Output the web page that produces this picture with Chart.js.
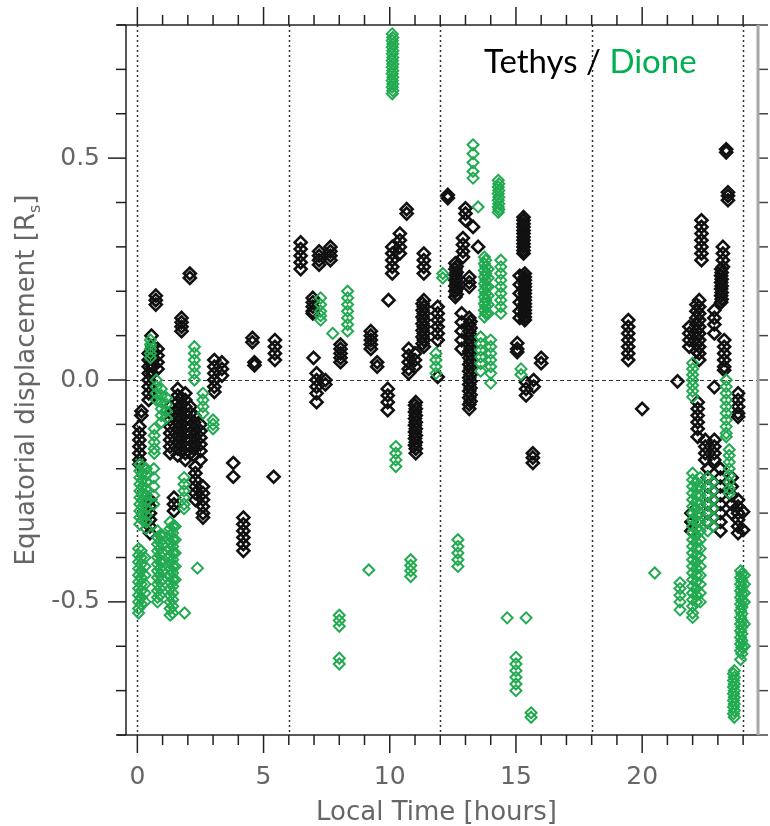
<!DOCTYPE html>
<html>
<head>
<meta charset="utf-8">
<script src="https://cdn.jsdelivr.net/npm/chart.js@4"></script>
<style>
  html, body { margin: 0; background: #fff; }
  #wrap { width: 770px; height: 826px; }
</style>
</head>
<body>
<div id="wrap"><canvas id="displacementChart"></canvas></div>
<script>
// each pass: [local time (h), [equatorial displacement (Rs), ...]]
const tethysPasses = [
  [0.08, [-0.105, -0.12, -0.135, -0.15, -0.165, -0.18, -0.19]],
  [0.16, [-0.07, -0.08]],
  [0.45, [0.06, 0.045, 0.03, 0.015, 0.0, -0.015, -0.03, -0.045]],
  [0.6, [0.075, 0.06, 0.045, 0.03, 0.015]],
  [0.56, [0.10]],
  [0.8, [0.07, 0.055, 0.04, 0.025]],
  [0.73, [0.19, 0.18, 0.17]],
  [1.75, [0.14, 0.13, 0.12, 0.11]],
  [2.08, [0.24, 0.23]],
  [3.05, [0.045, 0.03, 0.015, 0.0, -0.015, -0.027]],
  [3.35, [0.04, 0.025, 0.01]],
  [4.56, [0.095, 0.085]],
  [4.64, [0.04, 0.033]],
  [5.45, [0.09, 0.075, 0.06, 0.045]],
  [1.3, [-0.06, -0.075, -0.09, -0.105, -0.12, -0.135, -0.15, -0.165]],
  [1.6, [-0.02, -0.035, -0.05, -0.065, -0.08, -0.095, -0.11, -0.125, -0.14, -0.155, -0.17]],
  [1.75, [-0.04, -0.055, -0.07, -0.085, -0.1, -0.115, -0.13, -0.145, -0.16]],
  [1.9, [-0.03, -0.045, -0.06, -0.075, -0.09, -0.105, -0.12, -0.135, -0.15, -0.165, -0.18]],
  [2.1, [-0.06, -0.075, -0.09, -0.105, -0.12, -0.135, -0.15, -0.165]],
  [2.25, [-0.08, -0.095, -0.11, -0.125, -0.14, -0.155, -0.17]],
  [2.5, [-0.1, -0.115, -0.13, -0.145, -0.16, -0.18]],
  [0.5, [-0.27, -0.285, -0.3, -0.315, -0.33, -0.345]],
  [1.45, [-0.265, -0.28, -0.295]],
  [2.3, [-0.195, -0.21, -0.225, -0.24, -0.255, -0.27]],
  [2.6, [-0.24, -0.255, -0.27, -0.285, -0.3, -0.31]],
  [3.8, [-0.187, -0.218]],
  [5.4, [-0.218]],
  [4.2, [-0.31, -0.325, -0.34, -0.355, -0.37, -0.385]],
  [6.47, [0.31, 0.295, 0.28, 0.265, 0.25]],
  [7.2, [0.29, 0.28, 0.27, 0.26]],
  [7.65, [0.3, 0.29, 0.28, 0.27]],
  [6.95, [0.185, 0.175, 0.165, 0.155, 0.15]],
  [6.98, [0.05]],
  [7.1, [0.015, 0.0, -0.015, -0.03, -0.05]],
  [7.45, [0.0, -0.01]],
  [8.05, [0.08, 0.07, 0.06, 0.05, 0.04]],
  [9.25, [0.11, 0.1, 0.09, 0.08, 0.07]],
  [9.5, [0.04, 0.03]],
  [9.95, [0.18]],
  [9.92, [-0.02, -0.035, -0.05, -0.068]],
  [10.1, [0.3, 0.285, 0.27, 0.255, 0.24]],
  [10.4, [0.33, 0.315, 0.3, 0.285]],
  [10.67, [0.385, 0.375]],
  [10.75, [0.07, 0.055, 0.04, 0.025, 0.015]],
  [11.0, [0.06, 0.045, 0.03]],
  [11.03, [-0.05, -0.065, -0.08, -0.095, -0.11, -0.125, -0.14, -0.155, -0.165]],
  [11.0, [-0.057, -0.072, -0.087, -0.102, -0.117, -0.132, -0.147]],
  [11.35, [0.285, 0.27, 0.255, 0.24]],
  [11.35, [0.18, 0.165, 0.15, 0.135, 0.12, 0.105, 0.09, 0.075]],
  [11.3, [0.172, 0.157, 0.142, 0.127, 0.112, 0.097, 0.082]],
  [11.9, [0.165, 0.15, 0.135, 0.12, 0.105, 0.09]],
  [11.9, [0.007]],
  [12.3, [0.417, 0.41]],
  [13.0, [0.387, 0.375, 0.36]],
  [13.3, [0.345]],
  [12.9, [0.32, 0.305, 0.29, 0.277]],
  [13.5, [0.3]],
  [12.6, [0.263, 0.25, 0.237, 0.225, 0.212, 0.2, 0.187]],
  [12.65, [0.256, 0.243, 0.23, 0.218, 0.205, 0.193]],
  [13.15, [0.232, 0.22, 0.21]],
  [15.3, [0.367, 0.36, 0.352, 0.345, 0.337, 0.33, 0.322, 0.315, 0.307, 0.3, 0.292, 0.285]],
  [15.35, [0.24, 0.232, 0.225, 0.217, 0.21, 0.202, 0.195, 0.187, 0.18, 0.172, 0.165, 0.157, 0.15, 0.142, 0.135]],
  [15.15, [0.235, 0.215, 0.195, 0.175, 0.155, 0.14]],
  [13.15, [0.14, 0.125, 0.11, 0.095, 0.08, 0.065, 0.05, 0.035, 0.02, 0.005, -0.01, -0.025, -0.04, -0.055, -0.065]],
  [13.2, [0.132, 0.117, 0.102, 0.087, 0.072, 0.057, 0.042, 0.027, 0.012, -0.003, -0.018, -0.033, -0.048]],
  [12.85, [0.15, 0.13, 0.11, 0.09, 0.07]],
  [15.05, [0.083, 0.07, 0.063]],
  [16.0, [0.05, 0.038]],
  [15.4, [-0.005, -0.02, -0.035]],
  [15.7, [0.0, -0.015]],
  [15.67, [-0.165, -0.175, -0.187]],
  [19.45, [0.135, 0.12, 0.105, 0.09, 0.075, 0.06, 0.045]],
  [20.0, [-0.065]],
  [21.4, [-0.003]],
  [22.35, [0.36, 0.345, 0.33, 0.315, 0.3, 0.285, 0.27]],
  [23.33, [0.52, 0.513]],
  [23.4, [0.423, 0.415, 0.405]],
  [23.2, [0.3, 0.285, 0.27, 0.255]],
  [23.13, [0.25, 0.235, 0.22, 0.205, 0.19, 0.175]],
  [23.15, [0.242, 0.227, 0.212, 0.197, 0.182]],
  [22.86, [0.157, 0.14, 0.125, 0.105]],
  [22.26, [0.18, 0.165, 0.15, 0.135, 0.12, 0.105, 0.09, 0.075, 0.06, 0.045]],
  [22.15, [0.17, 0.155, 0.14, 0.125, 0.11, 0.095, 0.08, 0.065]],
  [21.87, [0.12, 0.105, 0.09, 0.075]],
  [23.25, [0.09, 0.075, 0.06, 0.045, 0.03, 0.022]],
  [22.2, [-0.05, -0.065, -0.08, -0.095, -0.11, -0.128]],
  [22.5, [-0.135, -0.15, -0.165, -0.18]],
  [22.86, [-0.135, -0.15, -0.165, -0.18]],
  [22.86, [-0.016]],
  [23.8, [-0.03, -0.045, -0.06, -0.075, -0.083]],
  [23.8, [-0.27, -0.285, -0.3, -0.315, -0.33, -0.345]],
  [24.0, [-0.297, -0.338]],
  [22.6, [-0.2, -0.22, -0.24, -0.26, -0.28, -0.3, -0.32]],
  [23.1, [-0.2, -0.22, -0.24, -0.26, -0.28, -0.3, -0.32, -0.34]],
  [23.55, [-0.22, -0.24, -0.26, -0.28, -0.3]],
  [21.95, [-0.3, -0.32, -0.34]]
];

const dionePasses = [
  [0.52, [0.09, 0.08, 0.07, 0.06, 0.05]],
  [2.26, [0.075, 0.06, 0.045, 0.03, 0.015, 0.0]],
  [0.75, [0.0, -0.015, -0.03, -0.045]],
  [0.95, [-0.02, -0.035, -0.05, -0.065, -0.08, -0.095]],
  [1.15, [-0.04, -0.055, -0.07, -0.085]],
  [2.6, [-0.03, -0.045, -0.06, -0.075]],
  [3.0, [-0.09, -0.1, -0.11]],
  [0.67, [-0.11, -0.125, -0.14, -0.155, -0.165]],
  [0.1, [-0.19, -0.205, -0.22, -0.235, -0.25, -0.265, -0.28, -0.295, -0.31, -0.325]],
  [0.2, [-0.195, -0.21, -0.225, -0.24, -0.255, -0.27, -0.285, -0.3, -0.315]],
  [0.35, [-0.2, -0.215, -0.23, -0.245, -0.26, -0.275, -0.29, -0.305, -0.32, -0.335]],
  [0.65, [-0.2, -0.22, -0.24, -0.26, -0.28]],
  [1.85, [-0.22, -0.235, -0.25, -0.265, -0.28, -0.29]],
  [0.05, [-0.38, -0.395, -0.41, -0.425, -0.44, -0.455, -0.47, -0.485, -0.5, -0.515, -0.525]],
  [0.15, [-0.385, -0.4, -0.415, -0.43, -0.445, -0.46, -0.475, -0.49, -0.505]],
  [0.3, [-0.4, -0.42, -0.44, -0.46, -0.48, -0.5]],
  [0.8, [-0.34, -0.355, -0.37, -0.385, -0.4, -0.415, -0.43, -0.445, -0.46, -0.475, -0.49, -0.5]],
  [0.9, [-0.35, -0.365, -0.38, -0.395, -0.41, -0.425, -0.44, -0.455, -0.47, -0.485]],
  [1.0, [-0.35, -0.37, -0.39, -0.41, -0.43, -0.45]],
  [1.3, [-0.32, -0.335, -0.35, -0.365, -0.38, -0.395, -0.41, -0.425, -0.44, -0.455, -0.47, -0.485, -0.5, -0.515, -0.53]],
  [1.4, [-0.33, -0.345, -0.36, -0.375, -0.39, -0.405, -0.42, -0.435, -0.45, -0.465, -0.48, -0.495, -0.51, -0.525]],
  [1.5, [-0.33, -0.36, -0.39, -0.42, -0.45]],
  [2.38, [-0.424]],
  [1.87, [-0.525]],
  [7.26, [0.185, 0.17, 0.155, 0.145, 0.135]],
  [7.74, [0.105]],
  [8.33, [0.2, 0.185, 0.17, 0.155, 0.14, 0.125, 0.11]],
  [8.0, [-0.53, -0.542, -0.555]],
  [8.0, [-0.627, -0.64]],
  [9.17, [-0.428]],
  [10.1, [0.78, 0.765, 0.75, 0.735, 0.72, 0.705, 0.69, 0.675, 0.66, 0.645]],
  [10.12, [0.772, 0.757, 0.742, 0.727, 0.712, 0.697, 0.682, 0.667, 0.652]],
  [10.24, [-0.15, -0.165, -0.18, -0.195]],
  [10.83, [-0.405, -0.418, -0.43, -0.443]],
  [12.1, [0.24, 0.23]],
  [11.83, [0.06, 0.045, 0.03, 0.015]],
  [12.7, [-0.36, -0.375, -0.39, -0.405, -0.42]],
  [13.3, [0.53, 0.51, 0.49, 0.47, 0.455]],
  [13.5, [0.39]],
  [14.3, [0.45, 0.435, 0.42, 0.405, 0.39, 0.378]],
  [14.32, [0.442, 0.427, 0.412, 0.397, 0.384]],
  [13.75, [0.277, 0.262, 0.247, 0.232, 0.217, 0.202, 0.187, 0.172, 0.157, 0.142]],
  [13.8, [0.27, 0.255, 0.24, 0.225, 0.21, 0.195, 0.18, 0.165, 0.15]],
  [13.9, [0.25, 0.23, 0.21, 0.19, 0.17, 0.15]],
  [14.4, [0.27, 0.255, 0.24, 0.225, 0.21, 0.195, 0.18, 0.165, 0.15]],
  [13.6, [0.097, 0.082, 0.067, 0.052, 0.037, 0.02]],
  [14.0, [0.09, 0.075, 0.06, 0.045, 0.03, 0.015, -0.007]],
  [15.2, [0.025, 0.012]],
  [14.65, [-0.536]],
  [15.4, [-0.536]],
  [15.0, [-0.625, -0.64, -0.655, -0.67, -0.685, -0.7]],
  [15.6, [-0.75, -0.76]],
  [20.5, [-0.435]],
  [21.5, [-0.457, -0.47, -0.485, -0.5, -0.518]],
  [22.0, [-0.21, -0.225, -0.24, -0.255, -0.27, -0.285, -0.3, -0.315, -0.33, -0.345, -0.36, -0.375, -0.39, -0.405, -0.42, -0.435, -0.45, -0.465, -0.48, -0.495, -0.51, -0.525, -0.535]],
  [22.15, [-0.23, -0.245, -0.26, -0.275, -0.29, -0.305, -0.32, -0.335, -0.35, -0.365, -0.38, -0.395, -0.41, -0.425, -0.44, -0.455, -0.47, -0.485, -0.5]],
  [22.3, [-0.22, -0.24, -0.26, -0.28, -0.3, -0.32, -0.34, -0.36, -0.38, -0.4, -0.42, -0.44, -0.46, -0.48, -0.5]],
  [22.6, [-0.22, -0.24, -0.26, -0.28, -0.3, -0.32, -0.34]],
  [22.8, [-0.23, -0.25, -0.27, -0.29, -0.31, -0.33]],
  [23.45, [-0.157, -0.17, -0.185, -0.2, -0.215, -0.23, -0.245, -0.255]],
  [23.33, [0.0, -0.015, -0.03, -0.045, -0.06, -0.075, -0.09, -0.105, -0.12, -0.128]],
  [22.0, [0.038, 0.025, 0.012, 0.0, -0.012, -0.025, -0.038]],
  [23.9, [-0.43, -0.445, -0.46, -0.475, -0.49, -0.505, -0.52, -0.535, -0.55, -0.565, -0.58, -0.595, -0.61, -0.63]],
  [23.95, [-0.437, -0.452, -0.467, -0.482, -0.497, -0.512, -0.527, -0.542, -0.557, -0.572, -0.587, -0.602, -0.617]],
  [24.05, [-0.44, -0.46, -0.48, -0.5, -0.55, -0.6]],
  [23.65, [-0.655, -0.67, -0.685, -0.7, -0.715, -0.73, -0.745, -0.76]],
  [23.62, [-0.662, -0.677, -0.692, -0.707, -0.722, -0.737, -0.752]]
];

const hourLabels = [0, 5, 10, 15, 20];
const dispLabels = [-0.5, 0.0, 0.5];
const sectorHours = [0, 6, 12, 18, 24];

const TETHYS = '#111111';
const DIONE = '#22aa50';
const AXIS_FONT = '"DejaVu Sans", sans-serif';

function toPoints(passes) {
  return passes.flatMap(([lt, ys]) => ys.map(y => ({ x: lt, y: y })));
}

function line(ctx, x1, y1, x2, y2) {
  ctx.beginPath();
  ctx.moveTo(x1, y1);
  ctx.lineTo(x2, y2);
  ctx.stroke();
}

// dotted sector lines and the dashed zero line, under the points
const guides = {
  id: 'guides',
  beforeDatasetsDraw(chart) {
    const { ctx, chartArea: a, scales: { x, y } } = chart;
    ctx.save();
    ctx.strokeStyle = '#333';
    ctx.lineWidth = 1.5;
    ctx.setLineDash([2, 3]);
    sectorHours.forEach(h => {
      const px = Math.round(x.getPixelForValue(h)) + 0.5;
      line(ctx, px, a.top, px, a.bottom);
    });
    ctx.lineWidth = 1;
    ctx.setLineDash([4, 3]);
    const py = Math.round(y.getPixelForValue(0)) + 0.5;
    line(ctx, a.left, py, a.right, py);
    ctx.restore();
  }
};

// box, outward ticks on all four sides, axis titles and the moon key
const frame = {
  id: 'frame',
  afterDraw(chart) {
    const { ctx, chartArea: a, scales: { x, y } } = chart;
    ctx.save();
    ctx.setLineDash([]);
    ctx.strokeStyle = '#222';
    ctx.lineWidth = 1.5;
    line(ctx, a.left - 9, a.top, a.right, a.top);
    line(ctx, a.left - 9, a.bottom, a.right, a.bottom);
    line(ctx, a.left, a.top, a.left, a.bottom);

    for (let h = 0; h <= 24; h++) {
      const px = x.getPixelForValue(h);
      const len = hourLabels.includes(h) ? 18 : 10;
      line(ctx, px, a.bottom, px, a.bottom + len);
      line(ctx, px, a.top, px, a.top - len);
    }
    for (let i = -8; i <= 8; i++) {
      const v = i / 10;
      const py = y.getPixelForValue(v);
      const major = i % 5 === 0;
      line(ctx, a.left, py, a.left - (major ? 18 : 10), py);
      ctx.strokeStyle = '#444';
      line(ctx, a.right, py, a.right + 11, py);
      ctx.strokeStyle = '#222';
    }
    ctx.strokeStyle = '#a8a8a8';
    ctx.lineWidth = 3;
    line(ctx, a.right + 1, a.top, a.right + 1, a.bottom);

    // axis titles
    ctx.fillStyle = '#666';
    ctx.font = '26px ' + AXIS_FONT;
    ctx.textAlign = 'center';
    ctx.textBaseline = 'alphabetic';
    ctx.fillText('Local Time [hours]', (a.left + a.right) / 2 - 5, 820);

    ctx.save();
    ctx.translate(34, (a.top + a.bottom) / 2);
    ctx.rotate(-Math.PI / 2);
    const main = 'Equatorial displacement [R';
    ctx.font = '26px ' + AXIS_FONT;
    const w1 = ctx.measureText(main).width;
    ctx.font = '16px ' + AXIS_FONT;
    const w2 = ctx.measureText('s').width;
    ctx.font = '26px ' + AXIS_FONT;
    const w3 = ctx.measureText(']').width;
    const sx = -(w1 + w2 + w3) / 2;
    ctx.textAlign = 'left';
    ctx.fillText(main, sx, 0);
    ctx.font = '16px ' + AXIS_FONT;
    ctx.fillText('s', sx + w1, 6);
    ctx.font = '26px ' + AXIS_FONT;
    ctx.fillText(']', sx + w1 + w2, 0);
    ctx.restore();

    // moon key
    ctx.font = '33px Lato, "Open Sans", sans-serif';
    ctx.textAlign = 'left';
    const k1 = 'Tethys / ';
    ctx.fillStyle = '#000';
    ctx.fillText(k1, 484, 73);
    ctx.fillStyle = '#00b050';
    ctx.fillText('Dione', 484 + ctx.measureText(k1).width, 73);
    ctx.restore();
  }
};

new Chart(document.getElementById('displacementChart'), {
  type: 'scatter',
  data: {
    datasets: [
      {
        label: 'Tethys',
        data: toPoints(tethysPasses),
        pointStyle: 'rectRot',
        pointRadius: 6,
        borderWidth: 2.6,
        borderColor: TETHYS,
        backgroundColor: 'rgba(0,0,0,0)',
        order: 2
      },
      {
        label: 'Dione',
        data: toPoints(dionePasses),
        pointStyle: 'rectRot',
        pointRadius: 5.5,
        borderWidth: 2,
        borderColor: DIONE,
        backgroundColor: 'rgba(0,0,0,0)',
        order: 1
      }
    ]
  },
  options: {
    responsive: true,
    maintainAspectRatio: false,
    animation: false,
    layout: { padding: { top: 25, right: 13, left: 0, bottom: 0 } },
    plugins: {
      legend: { display: false },
      tooltip: { enabled: false }
    },
    scales: {
      x: {
        type: 'linear',
        min: -0.45,
        max: 24.55,
        afterFit: s => { s.height = 91; s.paddingLeft = 0; s.paddingRight = 0; },
        afterBuildTicks: s => { s.ticks = hourLabels.map(v => ({ value: v })); },
        grid: { display: false, drawTicks: false },
        border: { display: false },
        ticks: {
          padding: 27,
          color: '#666',
          font: { family: AXIS_FONT, size: 25 },
          maxRotation: 0,
          callback: v => String(v)
        }
      },
      y: {
        type: 'linear',
        min: -0.8,
        max: 0.8,
        afterFit: s => { s.width = 126; s.paddingTop = 0; s.paddingBottom = 0; },
        afterBuildTicks: s => { s.ticks = dispLabels.map(v => ({ value: v })); },
        grid: { display: false, drawTicks: false },
        border: { display: false },
        ticks: {
          padding: 26,
          color: '#666',
          font: { family: AXIS_FONT, size: 25 },
          callback: v => v.toFixed(1)
        }
      }
    }
  },
  plugins: [guides, frame]
});
</script>
</body>
</html>
